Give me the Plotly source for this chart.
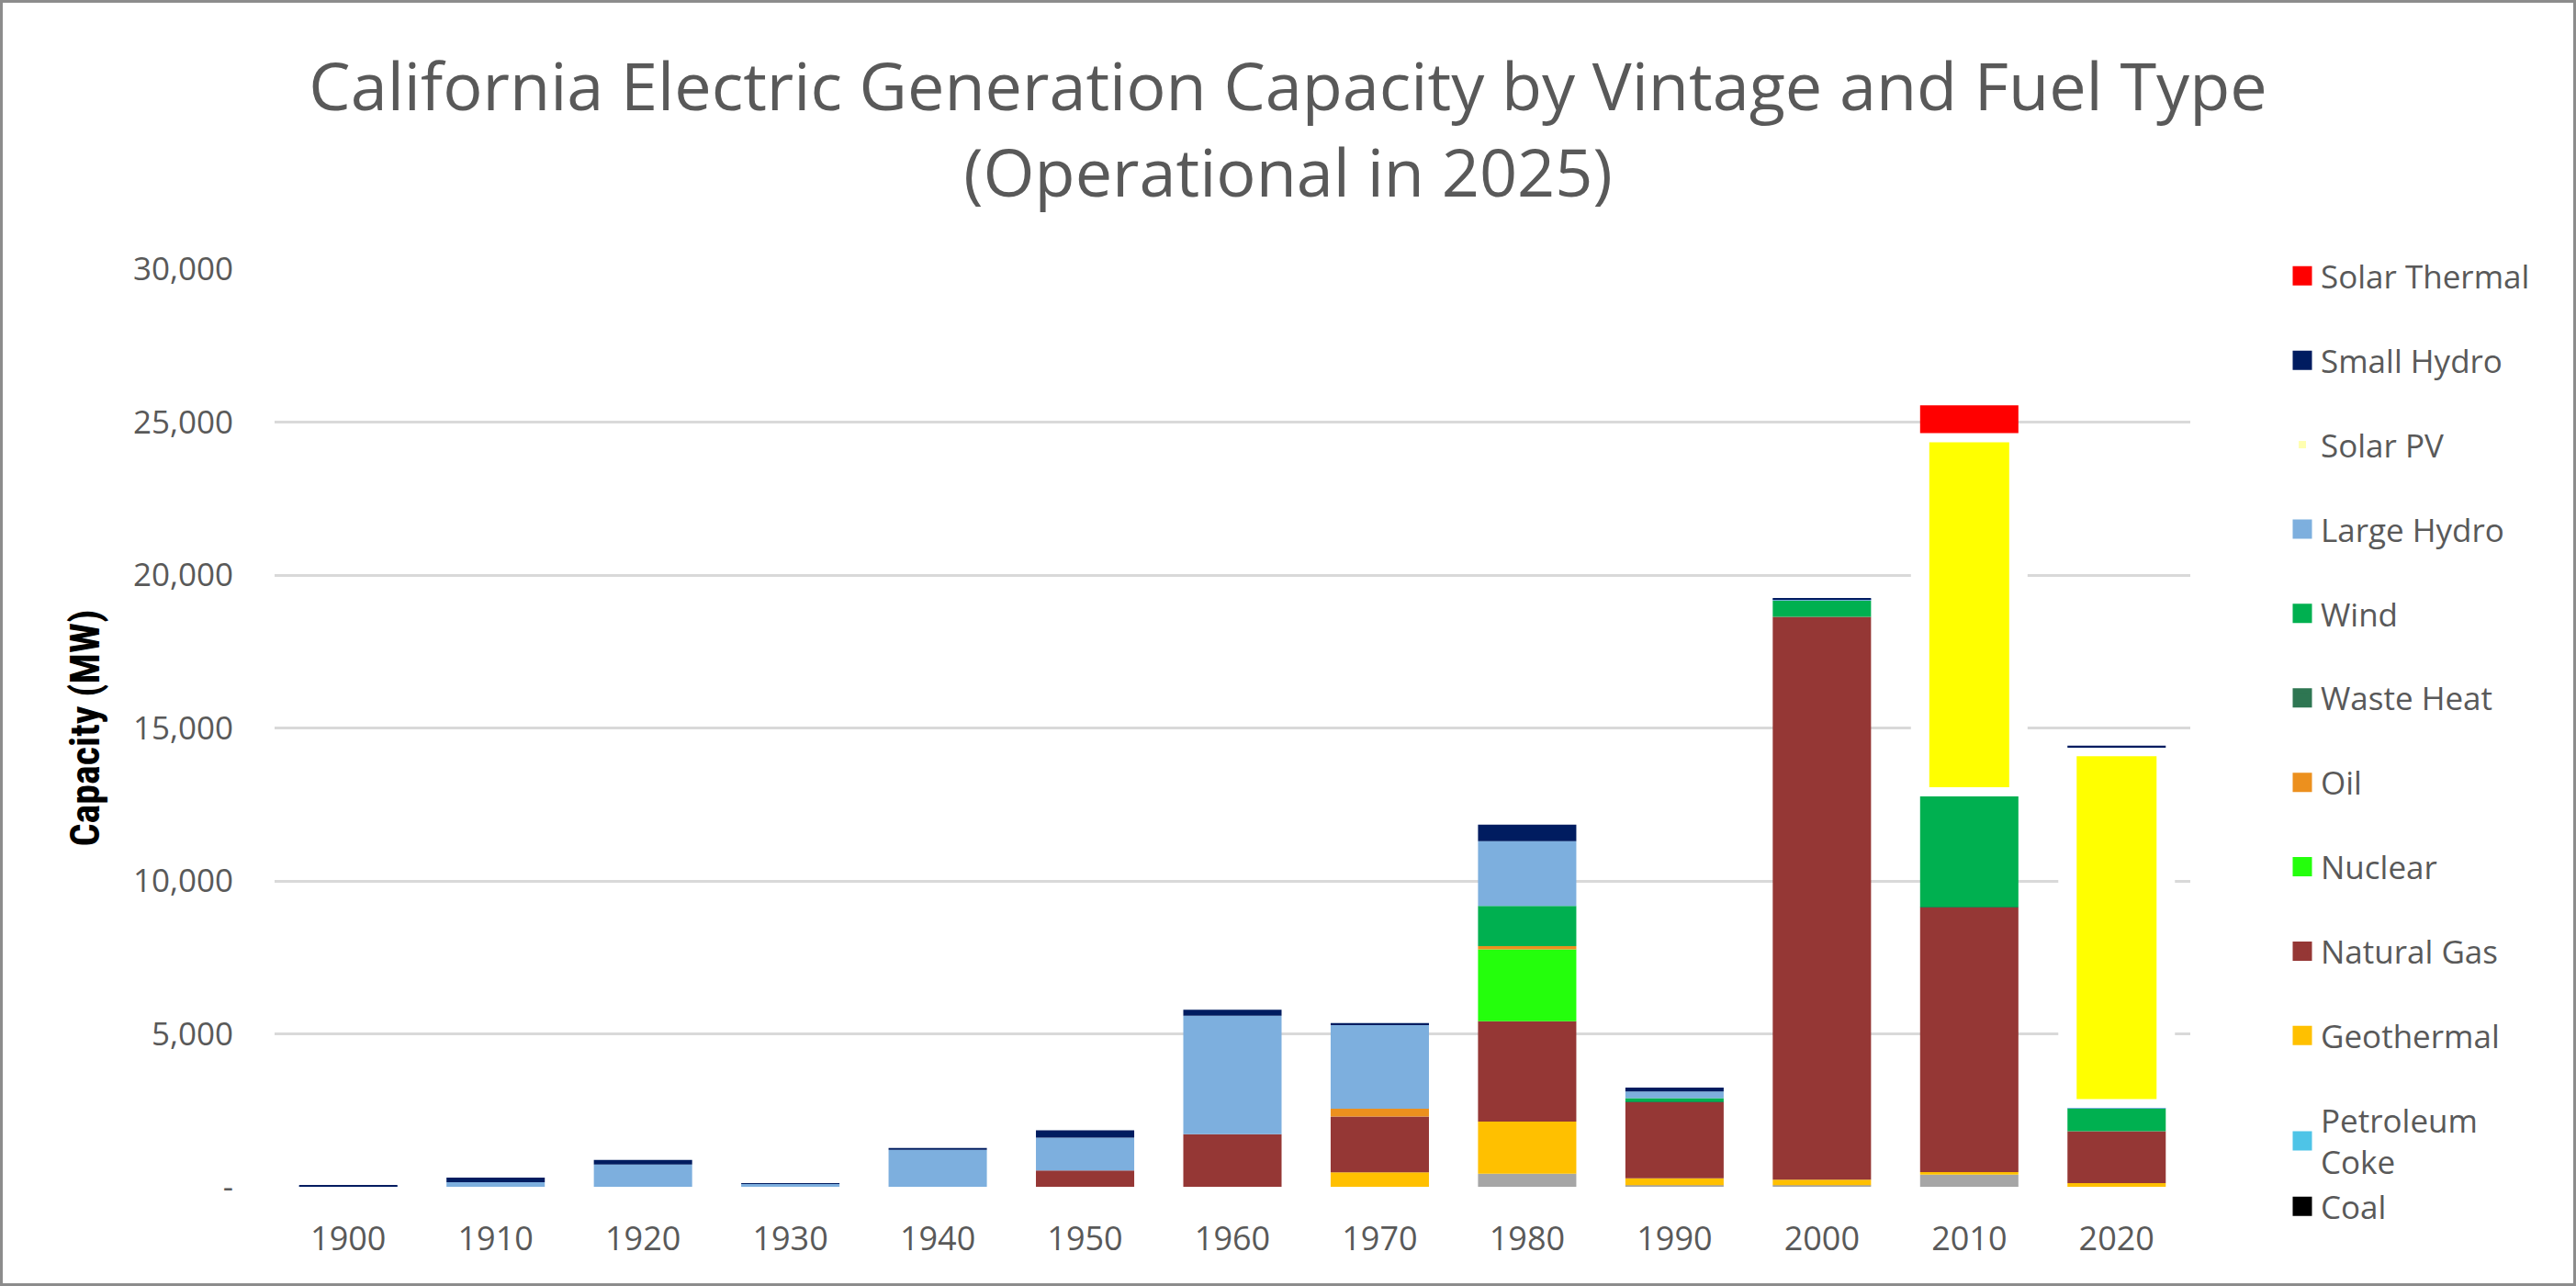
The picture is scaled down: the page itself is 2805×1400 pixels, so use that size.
import numpy as np
import plotly.graph_objects as go

# ---------------- data (MW) ----------------
years = ["1900", "1910", "1920", "1930", "1940", "1950", "1960",
         "1970", "1980", "1990", "2000", "2010", "2020"]

# series listed bottom -> top of each stack
biomass        = [0, 0, 0, 0, 0, 0, 0, 0, 425, 50, 50, 400, 0]
coal           = [0, 0, 0, 0, 0, 0, 0, 0, 0, 0, 0, 0, 0]
petroleum_coke = [0, 0, 0, 0, 0, 0, 0, 0, 0, 0, 0, 0, 0]
geothermal     = [0, 0, 0, 0, 0, 0, 0, 475, 1710, 230, 180, 80, 120]
natural_gas    = [0, 0, 0, 0, 0, 535, 1720, 1825, 3275, 2485, 18400, 8650, 1700]
nuclear        = [0, 0, 0, 0, 0, 0, 0, 0, 2350, 0, 0, 0, 0]
oil            = [0, 0, 0, 0, 0, 0, 0, 250, 110, 0, 0, 0, 0]
waste_heat     = [0, 0, 0, 0, 0, 0, 0, 0, 0, 20, 0, 20, 0]
wind           = [0, 0, 0, 0, 0, 0, 0, 0, 1310, 110, 540, 3610, 740]
large_hydro    = [20, 150, 730, 90, 1210, 1070, 3870, 2750, 2120, 220, 20, 0, 10]
solar_pv       = [0, 0, 0, 0, 0, 0, 0, 0, 0, 0, 0, 11880, 11810]
small_hydro    = [20, 150, 150, 30, 60, 240, 200, 50, 540, 130, 40, 0, 40]
solar_thermal  = [0, 0, 0, 0, 0, 0, 0, 0, 0, 0, 0, 910, 0]

y_tick_vals = [0, 5000, 10000, 15000, 20000, 25000, 30000]
y_tick_text = ["-", "5,000", "10,000", "15,000", "20,000", "25,000", "30,000"]

stack = [
    ("Biomass", biomass, "#A6A6A6"),
    ("Coal", coal, "#000000"),
    ("Petroleum Coke", petroleum_coke, "#4EC4E7"),
    ("Geothermal", geothermal, "#FFC000"),
    ("Natural Gas", natural_gas, "#953735"),
    ("Nuclear", nuclear, "#24FF0C"),
    ("Oil", oil, "#EC901E"),
    ("Waste Heat", waste_heat, "#2E7652"),
    ("Wind", wind, "#00B050"),
    ("Large Hydro", large_hydro, "#7DAFDE"),
    ("Solar PV", solar_pv, "#FFFF00"),
    ("Small Hydro", small_hydro, "#001C60"),
    ("Solar Thermal", solar_thermal, "#FF0000"),
]
colors = {n: c for n, _, c in stack}

legend_items = ["Solar Thermal", "Small Hydro", "Solar PV", "Large Hydro", "Wind",
                "Waste Heat", "Oil", "Nuclear", "Natural Gas", "Geothermal",
                "Petroleum Coke", "Coal"]
legend_labels = {"Petroleum Coke": "Petroleum<br>Coke"}

# ---------------- layout geometry ----------------
W, H = 2805, 1400
ml, mr, mt, mb = 299, 420, 293, 108
pw, ph = W - ml - mr, H - mt - mb

GRAY = "#595959"
FONT = "Open Sans, Noto Sans, sans-serif"

fig = go.Figure()

# compute stacked bases from the data
cum = np.zeros(len(years))
bars = []
for name, vals, color in stack:
    v = np.array(vals, dtype=float)
    bars.append((name, v, cum.copy(), color))
    cum = cum + v

# Solar PV drawn first so its soft white edge sits beneath neighbours
bars_draw = sorted(bars, key=lambda b: 0 if b[0] == "Solar PV" else 1)
for name, v, base, color in bars_draw:
    yv = [float(a) if a > 0 else None for a in v]
    if name == "Solar PV":
        line = dict(width=20, color="white")
    else:
        line = dict(width=0)
    fig.add_trace(go.Bar(
        x=years, y=yv, base=base.tolist(), name=name,
        marker=dict(color=color, line=line),
        showlegend=False, hoverinfo="x+y+name",
    ))

# legend entries
for i, name in enumerate(legend_items):
    c = colors[name]
    if name == "Solar PV":
        mk = dict(symbol="square", size=8, color="#FFFFB0", line=dict(width=0))
    else:
        mk = dict(symbol="square", size=16, color=c, line=dict(width=5, color=c))
    grp = "pc" if name in ("Petroleum Coke", "Coal") else f"g{i}"
    fig.add_trace(go.Scatter(
        x=[None], y=[None], mode="markers", marker=mk,
        name=legend_labels.get(name, name), legendgroup=grp, showlegend=True,
    ))

# chart border
fig.add_shape(type="rect", xref="paper", yref="paper",
              x0=-(ml - 1.5) / pw, x1=1 + (mr - 1.5) / pw,
              y0=-(mb - 1.5) / ph, y1=1 + (mt - 1.5) / ph,
              line=dict(color="#8C8C8C", width=3), fillcolor="rgba(0,0,0,0)",
              layer="above")

fig.update_layout(
    width=W, height=H,
    margin=dict(l=ml, r=mr, t=mt, b=mb, autoexpand=False),
    paper_bgcolor="white", plot_bgcolor="white",
    barmode="overlay", bargap=0.333,
    font=dict(family=FONT, color=GRAY),
    title=dict(
        text="California Electric Generation Capacity by Vintage and Fuel Type<br>(Operational in 2025)",
        font=dict(family=FONT, size=72, color=GRAY),
        x=0.5, xanchor="center", xref="container",
        y=1 - 120 / H, yanchor="top", yref="container",
    ),
    legend=dict(
        x=2487 / W, xanchor="left", xref="container",
        y=1 - 271 / H, yanchor="top", yref="container",
        font=dict(family=FONT, size=35, color=GRAY),
        tracegroupgap=43.4, bgcolor="rgba(0,0,0,0)",
        maxheight=1400,
    ),
    showlegend=True,
    xaxis=dict(
        type="category", showgrid=False, showline=False, zeroline=False,
        ticks="", tickfont=dict(family=FONT, size=36, color=GRAY),
        ticklabelstandoff=32,
    ),
    yaxis=dict(
        range=[0, 30000], tickvals=y_tick_vals, ticktext=y_tick_text,
        showgrid=True, gridcolor="#D9D9D9", gridwidth=3,
        zeroline=False, showline=False, ticks="",
        tickfont=dict(family=FONT, size=35, color=GRAY),
        ticklabelstandoff=44,
        title=dict(text="<b>Capacity (MW)</b>",
                   font=dict(family="Liberation Sans Narrow, Roboto Condensed, Open Sans, sans-serif",
                             size=44, color="black"),
                   standoff=22),
    ),
)

fig.write_html("out.html")
